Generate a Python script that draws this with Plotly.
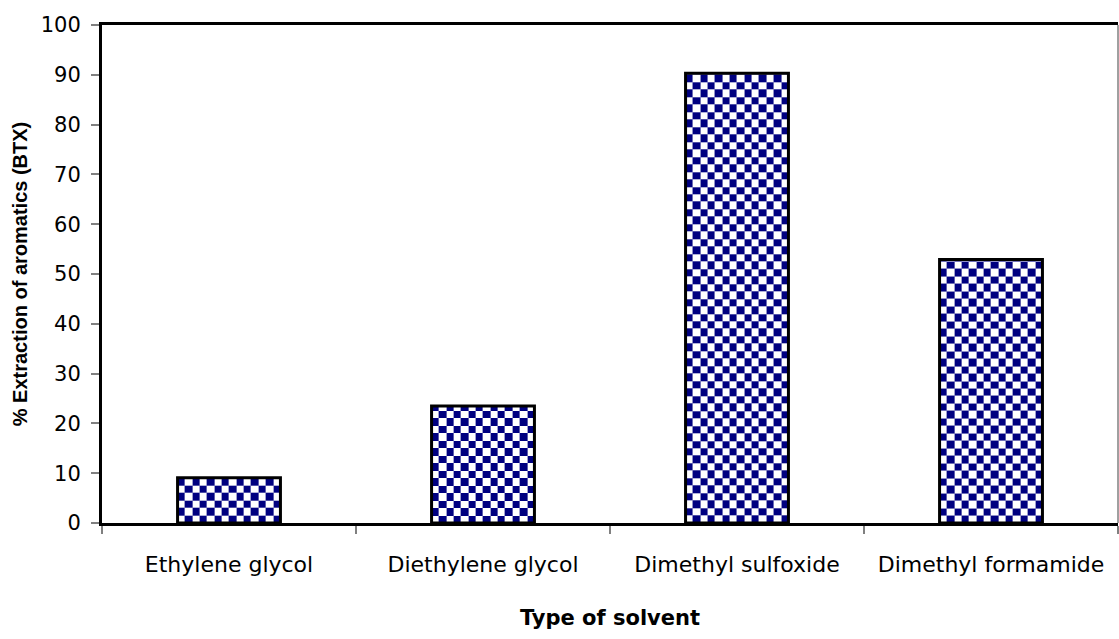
import numpy as np
import plotly.graph_objects as go

# Solvent screening results
solvents = ["Ethylene glycol", "Diethylene glycol", "Dimethyl sulfoxide", "Dimethyl formamide"]
extraction = [9.1, 23.5, 90.3, 52.9]
y_ticks = [0, 10, 20, 30, 40, 50, 60, 70, 80, 90, 100]

NAVY = "#000080"
BAR_W = 0.405          # bar width in category units
N_COLS = 14            # checker columns across one bar
CELL_H = 1.5           # checker row height in axis units

fig = go.Figure()

# Checkerboard fill for each bar, built as a small heatmap clipped at the bar value
for i, v in enumerate(extraction):
    xe = np.linspace(i - BAR_W / 2, i + BAR_W / 2, N_COLS + 1)
    ye = list(np.arange(0, v, CELL_H))
    if ye[-1] < v:
        ye.append(v)
    ye = np.array(ye)
    nr = len(ye) - 1
    z = [[(r + c) % 2 for c in range(N_COLS)] for r in range(nr)]
    fig.add_trace(go.Heatmap(
        x=xe, y=ye, z=z, zmin=0, zmax=1,
        colorscale=[[0, "white"], [1, NAVY]],
        showscale=False, hoverinfo="skip",
    ))

# Bar outlines
fig.add_trace(go.Bar(
    x=list(range(len(solvents))), y=extraction, width=BAR_W,
    marker=dict(color="rgba(0,0,0,0)", line=dict(color="black", width=3)),
    hovertemplate="%{text}: %{y}<extra></extra>", text=solvents, textposition="none",
))

wide_font = "DejaVu Sans, Verdana, sans-serif"
narrow_font = "Liberation Sans, Arial, sans-serif"

fig.update_layout(
    width=1119, height=639,
    margin=dict(l=102, r=1, t=25, b=116),
    paper_bgcolor="white", plot_bgcolor="white",
    showlegend=False,
    font=dict(family=wide_font, size=21, color="black"),
    xaxis=dict(
        range=[-0.5, 3.5],
        tickmode="array", tickvals=list(range(len(solvents))), ticktext=solvents,
        ticks="", showgrid=False, zeroline=False,
        showline=True, linecolor="black", linewidth=3, mirror=True,
        ticklabelstandoff=20,
        tickfont=dict(family=wide_font, size=22),
        minor=dict(tickmode="array", tickvals=[-0.5, 0.5, 1.5, 2.5, 3.5],
                   ticks="outside", ticklen=8, tickcolor="#808080", tickwidth=1.5,
                   showgrid=False),
        title=dict(text="<b>Type of solvent</b>",
                   font=dict(family=wide_font, size=21), standoff=34),
    ),
    yaxis=dict(
        range=[0, 100], tickmode="array", tickvals=y_ticks,
        ticks="outside", ticklen=8, tickcolor="#808080", tickwidth=1.5,
        showgrid=False, zeroline=False,
        showline=True, linecolor="black", linewidth=3,
        ticklabelstandoff=6,
        tickfont=dict(family=wide_font, size=21),
        title=dict(text="<b>% Extraction of aromatics (BTX)</b>",
                   font=dict(family=narrow_font, size=20), standoff=8),
    ),
    shapes=[dict(type="line", xref="paper", yref="paper", x0=1, x1=1, y0=0, y1=1,
                 line=dict(color="#404040", width=1))],
)

fig.write_html("out.html")
